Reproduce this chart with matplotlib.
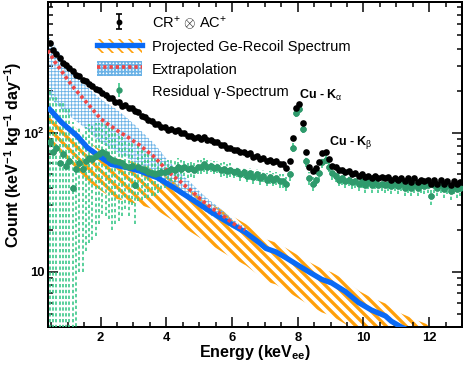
import numpy as np
import matplotlib
matplotlib.use('Agg')
import matplotlib.pyplot as plt
from matplotlib.patches import Patch
from matplotlib.lines import Line2D
from matplotlib.ticker import MultipleLocator, LogLocator, NullFormatter

plt.rcParams['font.family'] = ['Liberation Sans', 'DejaVu Sans']
plt.rcParams['mathtext.fontset'] = 'custom'
plt.rcParams['mathtext.rm'] = 'Liberation Sans'
plt.rcParams['mathtext.it'] = 'Liberation Sans:italic'
plt.rcParams['mathtext.bf'] = 'Liberation Sans:bold'

# ---------------- data ----------------
# bin centres (keV_ee), 0.1 keV bins
energy = np.round(np.arange(0.45, 13.0, 0.1), 2)

# CR+ (x) AC+ measured spectrum
cr_ac = [
    440, 395, 365, 345, 318, 308, 290, 278, 260, 254,
    240, 234, 222, 218, 206, 202, 192, 188, 178, 176,
    166, 165, 155, 157, 150, 150, 142, 141, 132, 130,
    124, 122, 116, 115, 110, 109, 105, 106, 103, 104,
    99, 99, 95, 95, 92, 93, 90, 93, 88, 88,
    85, 85, 81, 81, 78, 78, 75, 75, 72, 73,
    70, 71, 67, 68, 65, 66, 63, 64, 61, 62,
    59, 59, 56, 63, 92, 150, 160, 118, 72, 57,
    53, 56, 61, 71, 73, 65, 58, 57, 54, 54,
    52, 53, 50, 51, 49, 50, 48, 49, 47, 49,
    47, 48, 47, 48, 46, 47, 46, 47, 45, 47,
    44, 47, 44, 46, 45, 46, 43, 46, 43, 46,
    43, 45, 42, 45, 43, 44,
]
cr_ac_relerr = 0.03

# residual gamma spectrum
residual = [
    85, 72, 78, 60, 70, 58, 62, 40, 55, 60,
    55, 62, 66, 65, 68, 70, 72, 70, 66, 64,
    62, 61, 60, 58, 57, 58, 42, 57, 55, 54,
    52, 51, 50, 51, 52, 52, 53, 55, 54, 57,
    55, 57, 55, 56, 54, 57, 57, 59, 57, 58,
    56, 57, 54, 55, 53, 54, 52, 53, 50, 52,
    49, 51, 48, 50, 47, 49, 46, 48, 46, 47,
    45, 45, 43, 50, 78, 138, 148, 107, 62, 47,
    43, 46, 51, 61, 64, 57, 51, 49, 46, 47,
    45, 46, 44, 45, 43, 45, 42, 44, 42, 44,
    42, 43, 42, 43, 41, 43, 41, 43, 40, 42,
    40, 42, 40, 42, 41, 42, 35, 42, 40, 42,
    39, 41, 38, 41, 39, 40,
]
residual_err = [
    125, 118, 110, 105, 98, 92, 86, 80, 52, 50,
    45, 48, 50, 48, 50, 48, 46, 45, 42, 44,
    40, 38, 35, 30, 32, 28, 20, 25, 22, 20,
    18, 16, 15, 14, 13, 12, 11, 10, 10, 9,
    9, 8, 8, 8, 7, 7, 7, 7, 7, 6,
    6, 6, 6, 6, 6, 6, 5, 5, 5, 5,
    5, 5, 5, 5, 5, 5, 5, 5, 5, 5,
    5, 5, 5, 5, 6, 8, 8, 7, 5, 5,
    5, 5, 5, 5, 5, 5, 5, 5, 5, 5,
    5, 5, 5, 5, 5, 5, 5, 5, 5, 5,
    5, 5, 5, 5, 5, 5, 5, 5, 5, 5,
    5, 5, 5, 5, 5, 5, 5, 5, 5, 5,
    5, 5, 5, 5, 5, 5,
]

# projected Ge-recoil spectrum and its band
recoil_e = [0.4, 0.82, 1.3, 1.6, 2.03, 2.33, 2.82, 3.24, 3.73, 4.24, 4.79, 5.39,
            5.9, 6.42, 6.82, 7.03, 7.33, 7.64, 8.33, 8.73, 9.03, 9.45, 9.85,
            10.24, 10.67, 10.85, 11.15, 11.7, 12.4]
recoil = [152, 118, 94, 78, 66, 59, 56, 52.5, 47.4, 40, 33, 26.6, 22.5, 19.1,
          16.2, 14.7, 13.9, 12.6, 10.0, 8.8, 8.3, 7.2, 6.0, 5.3, 4.8, 4.4, 4.0,
          3.5, 3.0]
recoil_hi = [168, 132, 105, 87, 74, 66, 63, 59, 53, 45, 37.5, 30.5, 26, 22,
             18.8, 17.1, 16.2, 14.8, 11.8, 10.5, 9.9, 8.7, 7.3, 6.5, 5.9, 5.45,
             5.0, 4.4, 3.8]
recoil_lo = [88, 68, 54, 45, 38, 34, 32, 30, 27.5, 23, 19, 15.4, 13, 11.1, 9.4,
             8.5, 8.1, 7.3, 5.8, 5.1, 4.8, 4.2, 3.5, 3.1, 2.8, 2.6, 2.3, 2.0, 1.7]

# extrapolation and its band
extrap_e = [0.4, 0.6, 0.8, 1.0, 1.2, 1.4, 1.6, 1.8, 2.0, 2.2, 2.4, 2.6, 2.8, 3.0,
            3.2, 3.4, 3.6, 3.8, 4.0, 4.2, 4.4, 4.6, 4.8, 5.0, 5.2, 5.4, 5.6, 5.8,
            6.0, 6.2, 6.4]
extrap = [390, 325, 280, 240, 208, 184, 162, 143, 126, 116, 108, 100, 94, 87,
          81, 74, 68, 61, 54, 49, 45, 41, 37.5, 34, 31, 28.5, 26.5, 24.5, 22.5,
          21, 20]
extrap_hi = [500, 420, 360, 305, 262, 235, 212, 192, 175, 162, 152, 140, 128,
             116, 105, 94, 85, 75, 65, 58, 52, 47, 42.5, 38, 34.5, 31.5, 29,
             26.5, 24, 22.2, 21]
extrap_lo = [190, 165, 148, 135, 124, 114, 103, 93, 85, 79, 75, 70, 66, 62,
             58, 54, 50, 46, 42, 38.5, 36, 34, 31.5, 29, 27, 25, 23.5, 22, 20.7,
             19.7, 19]

# ---------------- style ----------------
C_BLACK = '#000000'
C_GREEN = '#2f9a6c'
C_GREEN_ERR = '#3cc88a'
C_BLUE = '#0a6af5'
C_ORANGE = '#ffa00a'
C_RED = '#f04646'
C_LBLUE = '#6ab2e6'
HATCH_OR = '\\' * 4
HATCH_LB = '+' * 6

DPI = 120
fig = plt.figure(figsize=(463 / DPI, 368 / DPI), dpi=DPI)
ax = fig.add_axes([48 / 463, 41 / 368, 414 / 463, 325 / 368])
ax.set_yscale('log')

# orange hatched band (Ge recoil)
with plt.rc_context({'hatch.linewidth': 2.0}):
    band1 = ax.fill_between(recoil_e, recoil_lo, recoil_hi, facecolor='none',
                            edgecolor=C_ORANGE, hatch=HATCH_OR, linewidth=0, zorder=1)
    if hasattr(band1, 'set_hatch_linewidth'):
        band1.set_hatch_linewidth(2.0)

# light blue hatched band (extrapolation)
with plt.rc_context({'hatch.linewidth': 0.5}):
    band2 = ax.fill_between(extrap_e, extrap_lo, extrap_hi, facecolor='none',
                            edgecolor=C_LBLUE, hatch=HATCH_LB, linewidth=0, zorder=2)
    if hasattr(band2, 'set_hatch_linewidth'):
        band2.set_hatch_linewidth(0.5)

# residual gamma spectrum
res = ax.errorbar(energy, residual, yerr=residual_err, fmt='o', ms=2.8,
                  color=C_GREEN, ecolor=C_GREEN_ERR, elinewidth=1.0, capsize=0,
                  zorder=3)
for bl in res[2]:
    bl.set_linestyle((0, (2.0, 1.5)))

# recoil line
ax.plot(recoil_e, recoil, color=C_BLUE, lw=3.2, solid_capstyle='butt', zorder=4)
# extrapolation
ax.plot(extrap_e, extrap, color=C_RED, lw=2.2, ls=(0, (0.9, 0.8)), zorder=5)

# re-draw green markers above lines
ax.plot(energy, residual, 'o', ms=2.8, color=C_GREEN, zorder=6)

# measured spectrum
cr_err = np.array(cr_ac) * cr_ac_relerr
ax.errorbar(energy, cr_ac, yerr=cr_err, fmt='o', ms=3.0, color=C_BLACK,
            elinewidth=1.0, capsize=0, zorder=7)

# axes
ax.set_xlim(0.4, 13)
ax.set_ylim(4, 870)
ax.set_xticks([2, 4, 6, 8, 10, 12], ['2', '4', '6', '8', '10', '12'],
              fontweight='bold', fontsize=7.8)
ax.xaxis.set_minor_locator(MultipleLocator(0.5))
ax.set_yticks([10, 100], ['10', r'$\mathbf{10^{2}}$'], fontweight='bold',
              fontsize=7.8)
ax.yaxis.set_minor_locator(LogLocator(base=10, subs=np.arange(2, 10)))
ax.yaxis.set_minor_formatter(NullFormatter())
ax.tick_params(which='both', direction='in', top=True, right=True, width=0.9)
ax.tick_params(which='major', length=6)
ax.tick_params(which='minor', length=3)
ax.tick_params(axis='x', which='major', pad=3)
ax.tick_params(axis='y', which='major', pad=2)
for s in ax.spines.values():
    s.set_linewidth(1.2)

ax.set_xlabel(r'Energy (keV$_{\mathbf{ee}}$)', fontweight='bold', fontsize=9.6)
ax.set_ylabel(r'Count (keV$^{\mathbf{-1}}$ kg$^{\mathbf{-1}}$ day$^{\mathbf{-1}}$)',
              fontweight='bold', fontsize=9.6)
ax.xaxis.set_label_coords(0.5, -0.05)
ax.yaxis.set_label_coords(-0.058, 0.53)

# peak labels
ax.text(8.03, 185, r'Cu - K$_{\mathrm{\alpha}}$', fontweight='bold', fontsize=7.5,
        ha='left', va='center')
ax.text(8.94, 85, r'Cu - K$_{\mathrm{\beta}}$', fontweight='bold', fontsize=7.5,
        ha='left', va='center')

# legend handles
h_cr = ax.errorbar([-10], [100], yerr=[30], fmt='o', ms=2.5, color=C_BLACK,
                   elinewidth=1.0, capsize=2.0, capthick=1.0)
with plt.rc_context({'hatch.linewidth': 2.0}):
    p1 = Patch(facecolor='none', edgecolor=C_ORANGE, hatch=HATCH_OR, linewidth=0)
with plt.rc_context({'hatch.linewidth': 0.5}):
    p2 = Patch(facecolor='none', edgecolor=C_LBLUE, hatch=HATCH_LB, linewidth=0)
l1 = Line2D([], [], color=C_BLUE, lw=3.2)
l2 = Line2D([], [], color=C_RED, lw=2.2, ls=(0, (0.9, 0.8)))
h_res = ax.errorbar([-10], [100], yerr=[10], fmt='o', ms=2.8, color=C_GREEN,
                    ecolor=C_GREEN_ERR, elinewidth=1.0, capsize=0)

leg = ax.legend([h_cr, (p1, l1), (p2, l2), h_res],
                [r'CR$^{+}$ $\otimes$ AC$^{+}$', 'Projected Ge-Recoil Spectrum',
                 'Extrapolation', 'Residual γ-Spectrum'],
                loc='upper left', bbox_to_anchor=(0.118, 0.962), frameon=False,
                fontsize=8.8, handlelength=3.07, handleheight=1.1,
                handletextpad=0.68, labelspacing=0.5, borderpad=0,
                borderaxespad=0)

fig.savefig('out.png', dpi=DPI)
